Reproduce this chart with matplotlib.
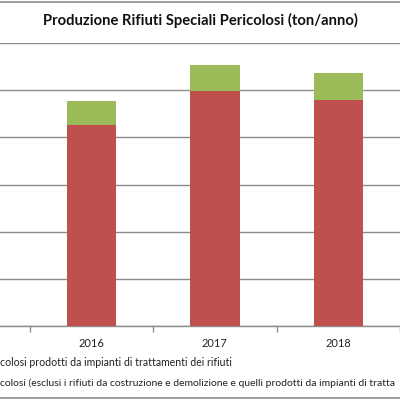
import numpy as np
import matplotlib
matplotlib.use("Agg")
import matplotlib.pyplot as plt
from matplotlib.lines import Line2D

plt.rcParams['font.family'] = ['Lato', 'DejaVu Sans']

# values (ton/anno), grid step assumed 20000
years = ['2016', '2017', '2018']
esclusi = [85400, 99600, 96000]      # red, bottom of stack
da_trattamento = [10000, 11000, 11300]  # green, top of stack
grid_step = 20000
y_max = 120000

title = 'Produzione Rifiuti Speciali Pericolosi (ton/anno)'
legend_lines = [
    'colosi prodotti da impianti di trattamenti dei rifiuti',
    'colosi (esclusi i rifiuti da costruzione e demolizione e quelli prodotti da impianti di tratta',
]

red = '#C0504D'
green = '#9BBB59'
grey = '#8C8C8C'

W = H = 400
fig = plt.figure(figsize=(4, 4), dpi=100)

# plot area: baseline at ~326 px, top gridline at ~43 px; category spacing 127 px
ax_bottom = (H - 325.8) / H
ax_height = (325.8 - 42.7) / H
ax = fig.add_axes([0, ax_bottom, 1, ax_height])

x = np.arange(len(years))
ax.bar(x, esclusi, width=0.4, color=red, zorder=3)
ax.bar(x, da_trattamento, width=0.4, bottom=esclusi, color=green, zorder=3)

# 94 px = centre of first bar, 127 px per category
ax.set_xlim(-94 / 127, (W - 94) / 127)
ax.set_ylim(0, y_max * 1.002)

ax.set_yticks(np.arange(0, y_max + 1, grid_step))
ax.yaxis.grid(True, color=grey, linewidth=1.0, zorder=0)
ax.tick_params(axis='y', left=False, labelleft=False)

ax.set_xticks(x)
ax.set_xticklabels(years, fontsize=7.9, color='#222222')
ax.tick_params(axis='x', which='major', length=0, pad=9)
ax.set_xticks(np.arange(-0.5, len(years) + 0.5, 1), minor=True)
ax.tick_params(axis='x', which='minor', length=4, color=grey, width=1)

for side in ['top', 'left', 'right']:
    ax.spines[side].set_visible(False)
ax.spines['bottom'].set_color(grey)
ax.spines['bottom'].set_linewidth(1.0)

fig.text(0.5, 1 - 20 / H, title, ha='center', va='center',
         fontsize=10.6, fontweight='bold', color='#111111')

fig.text(0.5 / W, 1 - 362 / H, legend_lines[0], ha='left', va='center',
         fontsize=7.6, color='#222222')
fig.text(0.5 / W, 1 - 383 / H, legend_lines[1], ha='left', va='center',
         fontsize=7.45, color='#222222')

# chart border lines visible at top and bottom
fig.add_artist(Line2D([0, 1], [1 - 1.5 / H, 1 - 1.5 / H], color=grey, linewidth=1.2))
fig.add_artist(Line2D([0, 1], [1 - 398 / H, 1 - 398 / H], color=grey, linewidth=1.2))

fig.savefig('out.png', dpi=100)
